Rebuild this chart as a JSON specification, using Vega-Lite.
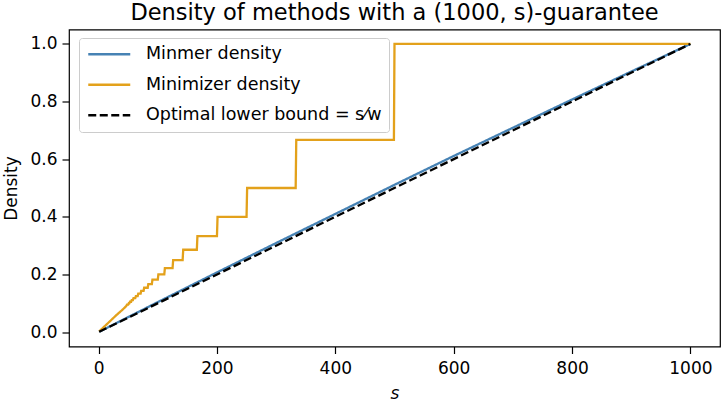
{
  "$schema": "https://vega.github.io/schema/vega-lite/v6.json",
  "width": 651,
  "height": 317,
  "autosize": "none",
  "padding": {"left": 69, "top": 29.5, "right": 2, "bottom": 56.5},
  "background": "white",
  "config": {
    "font": "DejaVu Sans",
    "view": {"stroke": "black", "strokeWidth": 1.2},
    "axis": {
      "domain": false,
      "grid": false,
      "ticks": true,
      "tickColor": "black",
      "tickSize": 7,
      "tickWidth": 1.2,
      "labelFont": "DejaVu Sans",
      "labelFontSize": 17,
      "labelColor": "black",
      "labelPadding": 5,
      "titleFont": "DejaVu Sans",
      "titleFontSize": 17,
      "titleFontWeight": "normal",
      "titleColor": "black"
    }
  },
  "title": {
    "text": "Density of methods with a (1000, s)-guarantee",
    "font": "DejaVu Sans",
    "fontSize": 22.5,
    "fontWeight": "normal",
    "color": "black",
    "anchor": "middle",
    "offset": 5
  },
  "data": {
    "values": [
      {"series": "Minmer density", "s": 1, "d": 0.001},
      {"series": "Minmer density", "s": 100, "d": 0.104},
      {"series": "Minmer density", "s": 200, "d": 0.207},
      {"series": "Minmer density", "s": 300, "d": 0.309},
      {"series": "Minmer density", "s": 400, "d": 0.41},
      {"series": "Minmer density", "s": 500, "d": 0.511},
      {"series": "Minmer density", "s": 600, "d": 0.611},
      {"series": "Minmer density", "s": 700, "d": 0.709},
      {"series": "Minmer density", "s": 800, "d": 0.807},
      {"series": "Minmer density", "s": 900, "d": 0.904},
      {"series": "Minmer density", "s": 1000, "d": 1.0},
      {"series": "Minimizer density", "s": 1, "d": 0.002},
      {"series": "Minimizer density", "s": 10, "d": 0.0198},
      {"series": "Minimizer density", "s": 20, "d": 0.0392},
      {"series": "Minimizer density", "s": 30, "d": 0.0588},
      {"series": "Minimizer density", "s": 40, "d": 0.0769},
      {"series": "Minimizer density", "s": 47, "d": 0.0909},
      {"series": "Minimizer density", "s": 48, "d": 0.0952},
      {"series": "Minimizer density", "s": 50, "d": 0.0952},
      {"series": "Minimizer density", "s": 51, "d": 0.1},
      {"series": "Minimizer density", "s": 52, "d": 0.1},
      {"series": "Minimizer density", "s": 53, "d": 0.1053},
      {"series": "Minimizer density", "s": 55, "d": 0.1053},
      {"series": "Minimizer density", "s": 56, "d": 0.1111},
      {"series": "Minimizer density", "s": 58, "d": 0.1111},
      {"series": "Minimizer density", "s": 59, "d": 0.1176},
      {"series": "Minimizer density", "s": 62, "d": 0.1176},
      {"series": "Minimizer density", "s": 63, "d": 0.125},
      {"series": "Minimizer density", "s": 66, "d": 0.125},
      {"series": "Minimizer density", "s": 67, "d": 0.1333},
      {"series": "Minimizer density", "s": 71, "d": 0.1333},
      {"series": "Minimizer density", "s": 72, "d": 0.1429},
      {"series": "Minimizer density", "s": 76, "d": 0.1429},
      {"series": "Minimizer density", "s": 77, "d": 0.1538},
      {"series": "Minimizer density", "s": 83, "d": 0.1538},
      {"series": "Minimizer density", "s": 84, "d": 0.1667},
      {"series": "Minimizer density", "s": 90, "d": 0.1667},
      {"series": "Minimizer density", "s": 91, "d": 0.1818},
      {"series": "Minimizer density", "s": 100, "d": 0.1818},
      {"series": "Minimizer density", "s": 101, "d": 0.2},
      {"series": "Minimizer density", "s": 111, "d": 0.2},
      {"series": "Minimizer density", "s": 112, "d": 0.2222},
      {"series": "Minimizer density", "s": 125, "d": 0.2222},
      {"series": "Minimizer density", "s": 126, "d": 0.25},
      {"series": "Minimizer density", "s": 142, "d": 0.25},
      {"series": "Minimizer density", "s": 143, "d": 0.2857},
      {"series": "Minimizer density", "s": 166, "d": 0.2857},
      {"series": "Minimizer density", "s": 167, "d": 0.3333},
      {"series": "Minimizer density", "s": 200, "d": 0.3333},
      {"series": "Minimizer density", "s": 201, "d": 0.4},
      {"series": "Minimizer density", "s": 250, "d": 0.4},
      {"series": "Minimizer density", "s": 251, "d": 0.5},
      {"series": "Minimizer density", "s": 333, "d": 0.5},
      {"series": "Minimizer density", "s": 334, "d": 0.6667},
      {"series": "Minimizer density", "s": 499, "d": 0.6667},
      {"series": "Minimizer density", "s": 500, "d": 1.0},
      {"series": "Minimizer density", "s": 1000, "d": 1.0},
      {"series": "Optimal lower bound = s⁄w", "s": 1, "d": 0.001},
      {"series": "Optimal lower bound = s⁄w", "s": 1000, "d": 1.0}
    ]
  },
  "mark": {"type": "line", "strokeWidth": 2.3, "clip": true},
  "encoding": {
    "x": {
      "field": "s",
      "type": "quantitative",
      "scale": {"domain": [-50, 1050], "nice": false, "zero": false},
      "axis": {"values": [0, 200, 400, 600, 800, 1000], "format": "d", "title": "s", "titleFontStyle": "italic", "titlePadding": 9, "labelPadding": 7}
    },
    "y": {
      "field": "d",
      "type": "quantitative",
      "scale": {"domain": [-0.05, 1.05], "nice": false, "zero": false},
      "axis": {"values": [0, 0.2, 0.4, 0.6, 0.8, 1.0], "format": ".1f", "title": "Density", "titlePadding": 9}
    },
    "color": {
      "field": "series",
      "type": "nominal",
      "scale": {
        "domain": ["Minmer density", "Minimizer density", "Optimal lower bound = s⁄w"],
        "range": ["#4682b4", "#e3a11b", "#000000"]
      },
      "legend": {
        "title": null,
        "orient": "none",
        "legendX": 10,
        "legendY": 8.5,
        "symbolType": "M-1,0H5",
        "symbolSize": 196,
        "symbolStrokeWidth": 2.3,
        "labelFontSize": 17.5,
        "labelFont": "DejaVu Sans",
        "labelColor": "black",
        "labelLimit": 1000,
        "labelOffset": 42,
        "rowPadding": 11.5,
        "padding": 7.5,
        "fillColor": "rgba(255,255,255,0.85)",
        "strokeColor": "#cccccc",
        "cornerRadius": 3
      }
    },
    "strokeDash": {
      "field": "series",
      "type": "nominal",
      "scale": {
        "domain": ["Minmer density", "Minimizer density", "Optimal lower bound = s⁄w"],
        "range": [[1, 0], [1, 0], [8, 3.5]]
      },
      "legend": {
        "title": null,
        "orient": "none",
        "legendX": 10,
        "legendY": 8.5,
        "symbolType": "M-1,0H5",
        "symbolSize": 196,
        "symbolStrokeWidth": 2.3,
        "labelFontSize": 17.5,
        "labelFont": "DejaVu Sans",
        "labelColor": "black",
        "labelLimit": 1000,
        "labelOffset": 42,
        "rowPadding": 11.5,
        "padding": 7.5,
        "fillColor": "rgba(255,255,255,0.85)",
        "strokeColor": "#cccccc",
        "cornerRadius": 3
      }
    }
  }
}
